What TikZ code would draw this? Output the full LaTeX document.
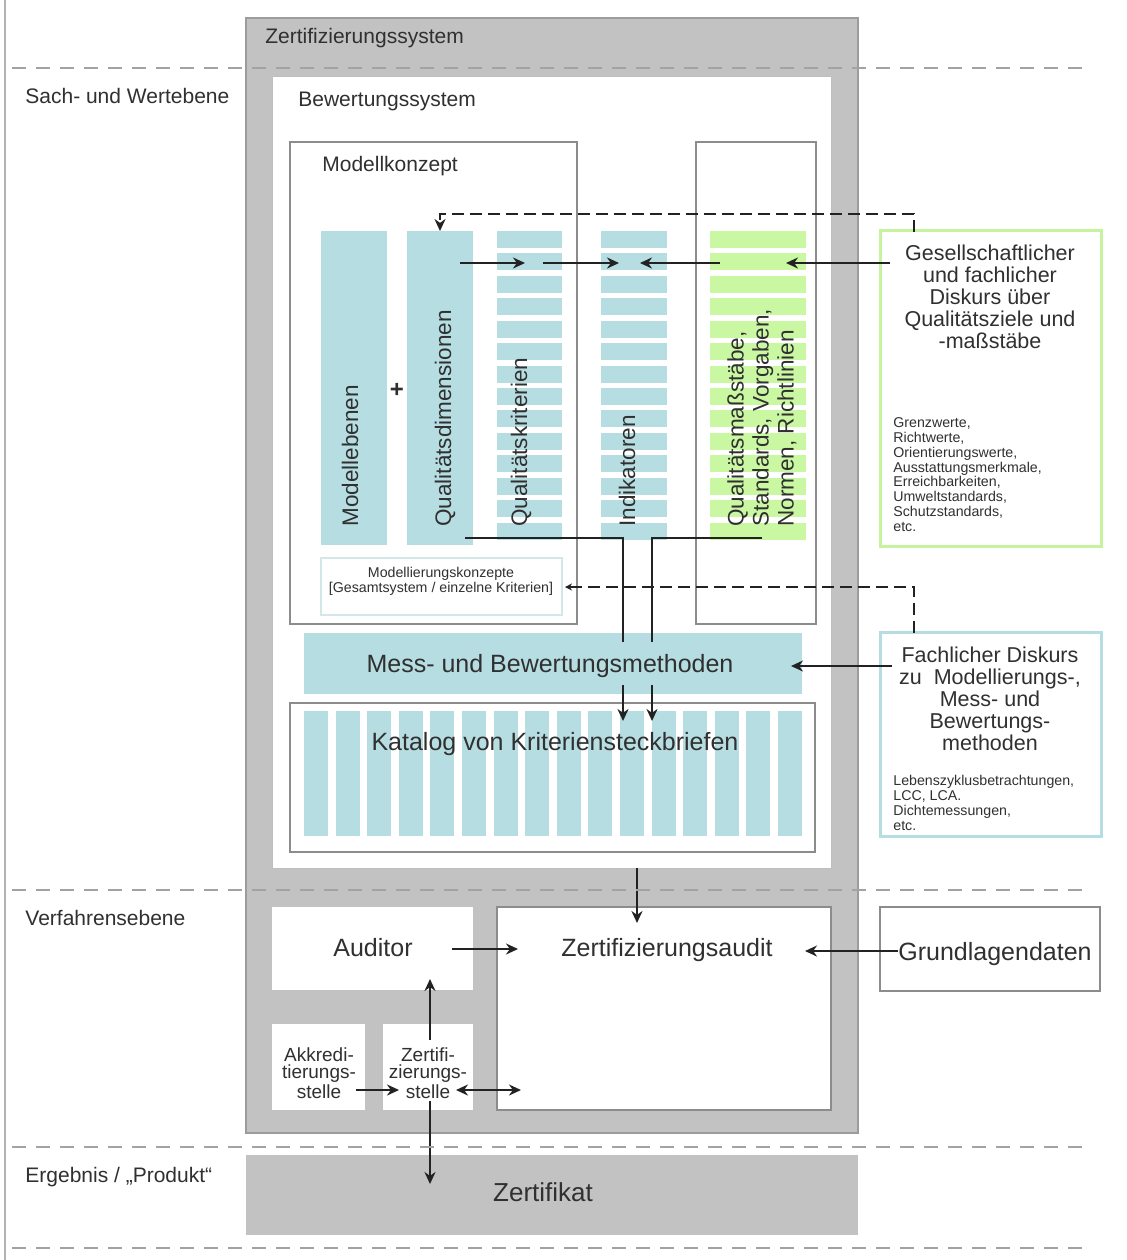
\documentclass[tikz,border=0pt]{standalone}
\usepackage{fontspec}
\setmainfont{Liberation Sans}
\usetikzlibrary{fit,arrows.meta}
\definecolor{zgray}{HTML}{C2C2C2}
\definecolor{zgrayline}{HTML}{9C9C9C}
\definecolor{colteal}{HTML}{B6DDE1}
\definecolor{colgreen}{HTML}{C9F7A2}
\definecolor{greenline}{HTML}{C6F39E}
\definecolor{txtc}{HTML}{303030}
\definecolor{sepc}{HTML}{A2A2A2}
\definecolor{thinc}{HTML}{8C8C8C}
\definecolor{arrc}{HTML}{222222}
\definecolor{mkline}{HTML}{D3E6E8}
\begin{document}
\begin{tikzpicture}[x=0.5pt,y=-0.5pt,
  area/.style={inner sep=0pt,outer sep=0pt},
  txt/.style={text=txtc,inner sep=0pt},
  ftitle/.style={font=\fontsize{10.5}{12.6}\selectfont},
  fcol/.style={font=\fontsize{11.25}{12.5}\selectfont},
  fbig/.style={font=\fontsize{12.5}{14}\selectfont},
  fside/.style={font=\fontsize{10.75}{11}\selectfont},
  fsmall/.style={font=\fontsize{7.1}{7.45}\selectfont},
  fstelle/.style={font=\fontsize{9.5}{8.75}\selectfont},
  tip/.tip={Stealth[length=6pt,width=5.5pt]},
  arr/.style={-tip, line width=1pt, draw=arrc},
  darr/.style={arr, dash pattern=on 6pt off 3pt},
  plain/.style={line width=1pt, draw=arrc},
  sep/.style={draw=sepc, line width=1pt, dash pattern=on 7pt off 5pt}]
\useasboundingbox (0,0) rectangle (1126,1260);
\fill[white] (0,0) rectangle (1126,1260);
\draw[draw=black!30, line width=0.6pt] (5,0) -- (5,1260);

% main gray areas
\node[area, fit={(246,18)(858,1133)}, fill=zgray, draw=zgrayline, line width=0.8pt] (zs) {};
\node[area, fit={(246,1155)(858,1235)}, fill=zgray] (zk) {};
\node[area, fit={(272,76)(831,868)}, fill=white, draw=black!25, line width=0.5pt] (bs) {};
\node[area, fit={(290,142)(577,624)}, draw=thinc, line width=0.6pt] (mk) {};
\node[area, fit={(696,142)(816,624)}, draw=thinc, line width=0.6pt] (sv) {};

% columns
\node[area, fit={(321,231)(387,545)}, fill=colteal] (me) {};
\node[area, fit={(407,231)(473,545)}, fill=colteal] (qd) {};
\node[area, fit={(497,231)(562,545)}] (qk) {};
\node[area, fit={(601,231)(667,545)}] (ind) {};
\node[area, fit={(710,231)(806,545)}] (gr) {};
\foreach \i in {0,...,13}{
  \fill[colteal] (497,{231+\i*22.43}) rectangle (562,{248+\i*22.43});
  \fill[colteal] (601,{231+\i*22.43}) rectangle (667,{248+\i*22.43});
  \fill[colgreen] (710,{231+\i*22.43}) rectangle (806,{248+\i*22.43});
}
\node[txt, fcol, rotate=90, anchor=west] (tme) at (350,527) {Modellebenen};
\node[txt, fcol, rotate=90, anchor=west] (tqd) at (445,527) {Qualitätsdimensionen};
\node[txt, fcol, rotate=90, anchor=west] (tqk) at (521,527) {Qualitätskriterien};
\node[txt, fcol, rotate=90, anchor=west] (tind) at (627,527) {Indikatoren};
\node[txt, fcol, rotate=90, anchor=west, align=left] (tgr) at (762,527) {Qualitätsmaßstäbe,\\Standards, Vorgaben,\\Normen, Richtlinien};
\node[txt, font=\bfseries\fontsize{12}{12}\selectfont] (plus) at (397,390) {+};

% Modellierungskonzepte
\node[area, fit={(321,558)(562,615)}, fill=white, draw=mkline, line width=0.8pt] (mkz) {};
\node[txt, fsmall, align=center, anchor=north] (tmkz) at (441,567) {Modellierungskonzepte\\{[}Gesamtsystem / einzelne Kriterien{]}};

% Mess- und Bewertungsmethoden
\node[area, fit={(304,633)(802,694)}, fill=colteal] (mess) {};
\node[txt, fbig, anchor=base] (tmess) at (550,672) {Mess- und Bewertungsmethoden};

% Katalog
\node[area, fit={(290,703)(815,852)}, fill=white, draw=thinc, line width=0.6pt] (kat) {};
\foreach \i in {0,...,15}{
  \fill[colteal] ({304+\i*31.6},711) rectangle ({328+\i*31.6},836);
}
\node[txt, fbig, anchor=base] (tkat) at (555,750) {Katalog von Kriteriensteckbriefen};

% Verfahrensebene boxes
\node[area, fit={(272,907)(473,990)}, fill=white] (aud) {};
\node[area, fit={(497,907)(831,1110)}, fill=white, draw=thinc, line width=0.6pt] (za) {};
\node[area, fit={(272,1024)(365,1110)}, fill=white] (ak) {};
\node[area, fit={(383,1024)(473,1110)}, fill=white] (zst) {};
\node[area, fit={(880,907)(1100,991)}, fill=white, draw=thinc, line width=0.6pt] (gd) {};
\node[txt, fbig, anchor=base] (taud) at (373,956) {Auditor};
\node[txt, fbig, anchor=base] (tza) at (667,956) {Zertifizierungsaudit};
\node[txt, fbig, anchor=base west] (tgd) at (898,960) {Grundlagendaten};
\node[txt, fstelle, align=center, anchor=north] (tak) at (319,1047) {Akkredi-\\tierungs-\\stelle};
\node[txt, fstelle, align=center, anchor=north] (tzst) at (428,1047) {Zertifi-\\zierungs-\\stelle};
\node[txt, font=\fontsize{13}{14}\selectfont, anchor=base] (tzk) at (543,1201) {Zertifikat};

% right boxes
\node[area, fit={(880,230)(1101,546)}, draw=greenline, line width=1.5pt] (gdisk) {};
\node[txt, fside, align=center, anchor=north] (tgdisk) at (990,245) {Gesellschaftlicher\\und fachlicher\\Diskurs über\\Qualitätsziele und\\-maßstäbe};
\node[txt, fsmall, align=left, anchor=north west] (tglist) at (893,417) {Grenzwerte,\\Richtwerte,\\Orientierungswerte,\\Ausstattungsmerkmale,\\Erreichbarkeiten,\\Umweltstandards,\\Schutzstandards,\\etc.};
\node[area, fit={(880,632)(1101,836)}, draw=colteal, line width=1.5pt] (fdisk) {};
\node[txt, fside, align=center, anchor=north] (tfdisk) at (990,647) {Fachlicher Diskurs\\zu\ \ Modellierungs-,\\Mess- und\\Bewertungs-\\methoden};
\node[txt, fsmall, align=left, anchor=north west] (tflist) at (893,775) {Lebenszyklusbetrachtungen,\\LCC, LCA.\\Dichtemessungen,\\etc.};

% titles and level labels
\node[txt, ftitle, anchor=base west] (tzs) at (265,43) {Zertifizierungssystem};
\node[txt, ftitle, anchor=base west] (tbs) at (298,106) {Bewertungssystem};
\node[txt, ftitle, anchor=base west] (tmk) at (322,171) {Modellkonzept};
\node[txt, ftitle, anchor=base west] (l1) at (25,103) {Sach- und Wertebene};
\node[txt, ftitle, anchor=base west] (l2) at (25,925) {Verfahrensebene};
\node[txt, ftitle, anchor=base west] (l3) at (25,1182) {Ergebnis / „Produkt“};

% connector end coordinates
\coordinate (qd-o) at (460,263);
\coordinate (qk-i) at (525,263);
\coordinate (qk-o) at (543,263);
\coordinate (ind-i1) at (619,263);
\coordinate (gr-o) at (720,263);
\coordinate (ind-i2) at (640,263);
\coordinate (gd-o) at (890,263);
\coordinate (gr-i) at (786,263);
\coordinate (gd-top) at (914,232);
\coordinate (qd-top) at (440,231);
\coordinate (fd-top) at (914,633);
\coordinate (mkz-r) at (565,587);
\coordinate (fd-o) at (892,666);
\coordinate (mess-r) at (791,666);
\coordinate (qd-b) at (465,538);
\coordinate (gr-b) at (762,538);
\coordinate (mess-t1) at (623,642);
\coordinate (mess-t2) at (652,642);
\coordinate (mess-b1) at (623,685);
\coordinate (mess-b2) at (652,685);
\coordinate (kat-t1) at (623,721);
\coordinate (kat-t2) at (652,721);
\coordinate (bs-b) at (637,868);
\coordinate (za-t) at (637,923);
\coordinate (aud-o) at (452,949);
\coordinate (za-l) at (518,949);
\coordinate (gd-l) at (898,951);
\coordinate (za-r) at (805,951);
\coordinate (zst-t) at (430,1040);
\coordinate (aud-b) at (430,979);
\coordinate (ak-o) at (356,1090);
\coordinate (zst-l) at (399,1090);
\coordinate (zst-r) at (456,1090);
\coordinate (za-bl) at (521,1090);
\coordinate (zst-b) at (430,1101);
\coordinate (zk-t) at (430,1184);

% connectors
\draw[arr] (qd-o) -- (qk-i);
\draw[arr] (qk-o) -- (ind-i1);
\draw[arr] (gr-o) -- (ind-i2);
\draw[arr] (gd-o) -- (gr-i);
\draw[darr] (gd-top) -- ++(0,-18) -| (qd-top);
\draw[darr, -{Stealth[length=3.5pt,width=3.5pt]}] (fd-top) |- (mkz-r);
\draw[arr] (fd-o) -- (mess-r);
\draw[plain] (qd-b) -| (mess-t1);
\draw[plain] (gr-b) -| (mess-t2);
\draw[arr] (mess-b1) -- (kat-t1);
\draw[arr] (mess-b2) -- (kat-t2);
\draw[arr] (bs-b) -- (za-t);
\draw[arr] (aud-o) -- (za-l);
\draw[arr] (gd-l) -- (za-r);
\draw[arr] (zst-t) -- (aud-b);
\draw[arr] (ak-o) -- (zst-l);
\draw[arr, tip-tip] (zst-r) -- (za-bl);
\draw[arr] (zst-b) -- (zk-t);

% level separators
\coordinate (s1a) at (12,68);   \coordinate (s1b) at (1085,68);
\coordinate (s2a) at (12,890);  \coordinate (s2b) at (1085,890);
\coordinate (s3a) at (12,1147); \coordinate (s3b) at (1085,1147);
\coordinate (s4a) at (12,1248); \coordinate (s4b) at (1085,1248);
\draw[sep] (s1a) -- (s1b);
\draw[sep] (s2a) -- (s2b);
\draw[sep] (s3a) -- (s3b);
\draw[sep] (s4a) -- (s4b);
\end{tikzpicture}
\end{document}
